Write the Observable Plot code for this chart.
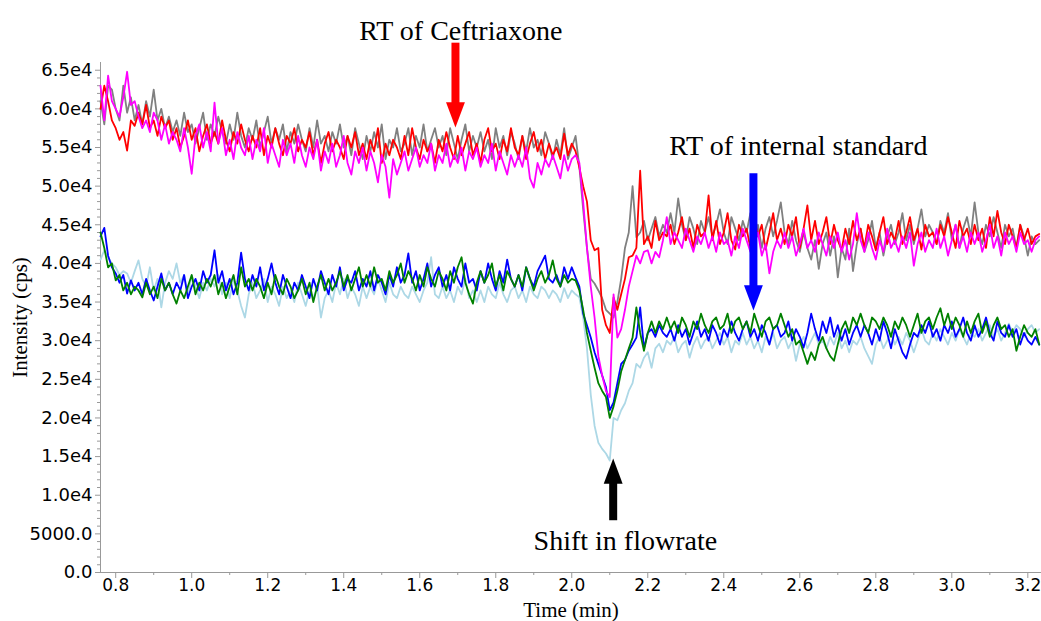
<!DOCTYPE html>
<html><head><meta charset="utf-8">
<script src="https://cdn.jsdelivr.net/npm/d3@7"></script>
<script src="https://cdn.jsdelivr.net/npm/@observablehq/plot@0.6"></script>
<style>
html,body{margin:0;padding:0;background:#fff;}
</style></head><body><div id="chart"></div>
<script>
// scan grid (min): first scan time and interval
const scanStart = 0.76, scanStep = 0.01;

// intensities in thousands of cps, one value per scan
const red = [60,63,61,58.5,57.5,56,57,54.6,58.5,57.8,
59.5,58,60.5,57.5,58.5,56.5,59,57.5,58.5,56,
57.5,55,56.5,58.5,56,57.5,54.5,56.5,58,55.5,
57,55.5,58.5,56,54.5,57,55.5,58,56,54.5,
56.5,55,57.5,54,56.5,55,57.5,55.5,54,56.5,
55.5,57.5,54.5,56,55,57,54,56,53,55.5,
57,54.5,56,55,53.5,56.5,55,57,54,55.5,
53.5,56,54.5,57.5,53,55.5,54,56,55,53.5,
56.5,54,57.5,55,53.5,56,54.5,55.5,53,56,
54.5,57,55,53.5,56.5,54,55.5,57,54,55.5,
53,56,57.5,54.5,55.5,53.5,56,54.5,57.5,55,
54,56.5,53.5,55.5,57,54.5,56,53.5,55.5,54,
55,53.5,56.8,54,55.5,54.5,52.4,50,48,43,
41.7,42,34,32,31,35.6,34,36,38,40.8,
41,42,52,42.5,43.5,42,45.5,43,44,43.5,
45,42.5,44,46,43,44.5,42,45,43.5,44,
48.8,43,45.5,42.5,44,46.5,43,41.8,45,43.5,
44.5,42,46,43.5,45,41.8,44,46.5,43,44.5,
42.5,45,43.5,46,42,44.5,47.5,43,45.5,42.5,
44,46,42.5,45,43,41.7,44.5,42.5,45.5,43,
44.5,42,45,43.5,41.7,44,46,42.5,44,43,
45.5,42.5,44,46,43,44.5,41.8,45,43.5,44,
42.5,45,43.5,46,44,42,45.5,43.5,44.5,42.5,
45,43,44.5,42,46,43.5,46.8,44,42.5,45,
43.5,42,45,43,44.5,42.5,43.5,43.8];

const gray = [61,58,63,62.5,60,58.5,63,59.5,61.5,58.5,
60.5,58,61,59,62.5,58.5,60,57.5,59,57,
58.5,56.5,59.5,57,58,55.5,57.5,59.5,56,58,
56.5,59,57,55.5,58,56,59.5,56.5,55,57.5,
56,58.5,55,57,59,55.5,57.5,56,58,54.5,
57,55.5,58,56,54.5,57.5,55,58.5,55.5,56.5,
54.5,57,55.5,58,55,56.5,54,57.5,55.5,53.5,
56.5,54.5,57,55,58,53.5,56,55,57.5,54.5,
55.5,57.5,54,56.5,55,58,54.5,56,57.5,55,
56.5,54,57.5,55.5,53.5,56,58,54.5,56.5,55,
57,54.5,56,53.5,57.5,55,56.5,54,57,55.5,
53.5,56.5,54.5,57.5,55,56,54,57,55.5,53.5,
56,54,57.5,53.5,55,56.5,52.5,47,42,38,
37.4,36.5,35.5,34,33.5,33,35,38,42,44,
50,43.4,44,45.5,43,44.5,46,43.5,45,44,
46.5,44,48.4,45,43,46,44.5,42.5,45.5,44,
46,43.5,45,47,44,42.5,46,44.5,43,45.5,
44,46.5,43,45,42,44.5,46,43.5,45.5,47.9,
44,42.5,45.5,43,41.5,44,42,40.5,43,39.3,
42.5,44,41,43.5,38.2,42,40.5,44.5,39,42.5,
44.5,41.5,43,45.5,42,44,41,43.5,45,42.5,
44,46.5,43,45,42.5,44.5,47,43.5,45,44,
42.5,45.5,44,46.5,43,45,42,44.5,46,43.5,
47.9,44,42.5,45,43.5,46,44,42,45,43.5,
44.5,42,45,43.5,41,43.5,42.5,43];

const magenta = [63,58.5,64.3,61,60,59,61.5,64.8,60.5,61,
59,57.5,58.5,57,59.5,58.5,56,58,55.5,57,
56,54.5,57.5,55,51.6,56.5,58,55,57,54.5,
60.8,55.5,57.5,54,56,53.5,57,55,54,56.5,
53.5,56,54.5,57.5,53,55.5,54,52.5,56,54,
55.5,53,56.5,54,52.5,55,53.5,56,52,54.5,
53,55.5,52.5,54,56.5,53,51.5,54.5,53,55,
52,54.5,53,50.5,54,52.5,48.5,53.5,51.5,53,
54.5,52,53.5,55,52.5,54,53,55.5,52,54,
53,55.5,52.5,54,53,55,52,54.5,53.5,55,
52.5,54,53,55.5,52,54.5,53,51.5,54,52.5,
54,52.5,55,51,49.8,53,51.5,53.5,52.5,54,
52.5,51,54,52,53.5,54,53,48,42,37,
33,28,25.5,23.5,22.7,36,30.4,31.5,34,37,
39,41,40,41.5,41.7,40,41.5,40.8,43,46,
42.5,44,43,42,44.5,43,41.5,43.5,42.5,44,
42,43.5,41.5,44,42.5,43,41,43.5,42,44.5,
43,41.5,42.5,44,41,42.5,38.7,41.5,43,42,
44,42,43.5,41,42.5,44.5,42,43,41.5,44,
42.5,41,43.5,42,44,41.5,43,40.5,42.5,46.5,
43,41.5,44,42,40.5,43,41.5,44.5,42,43,
41.5,43.5,42,44,39.7,42.5,44,41.5,43,42,
44.5,42,43.5,41,43,45,42,43.5,41.5,44,
42.5,44,41.5,43,45,42,43.5,41,44,42.5,
43.5,41.5,44,42.5,43,41.5,43,43.5];

const blue = [43.5,44.6,41,39.5,38.7,37.5,38.5,36.1,37.8,36.5,
37.5,36,38,36.5,35.2,37,38.7,36.5,37.5,36,
37.5,36.5,38.5,35.5,37,38,36.5,39,37.5,38.5,
41.7,37.5,39,36.5,38,36,37.5,41.4,38,36.5,
38.5,37,39.5,36.5,38,40,37.5,36,38.5,37,
35.5,37.5,36.5,38.5,37,35.5,38,36.5,39,37.5,
36,38.5,37,39.5,36.5,38,37.5,39,36.5,38,
37,39,36.5,38.5,37.5,36,38.5,37,39.5,37.5,
38.5,41.3,37.5,39,36.5,38,40,37,38.5,39.5,
37,38.5,36.5,39.5,38,37,40,37.5,38,36.5,
39,37.5,40,38,36.5,39,37.5,40.5,38,37,
38.5,36.5,39.5,38,37,39,40,41,38,37.5,
38.5,37,39.5,38,39.5,38.2,37,33.5,32,30.4,
28.5,27,25.5,24,21,22,24.5,27,27.5,28.7,
29.5,30.4,34.3,29,31,31.5,30.5,32,31,30.5,
31.5,30,32,30.5,31.5,29.5,31,32.5,30.5,31.5,
30,32,31,29.5,31.5,30.5,32.5,31,30,31.5,
32.5,30.5,31.5,30,32,31,29.5,31.5,32,30.5,
31,32.5,30,31.5,30.5,29.1,31,33.5,31.5,30,
32.5,31,33,30.5,32,30,31.5,29.5,31,32,
30.5,32,31,29.5,31.5,30,32.5,31,29,31.5,
30,28.5,27.7,29.5,31,30.5,32,31,32.5,30.5,
31.5,30,32,31,32.5,30.5,31.5,33,31,30,
32,30.5,31.5,33,31,30,32.5,31,30.5,32,
30.5,31.5,29.5,31,30,29.5,30.5,29.5];

const green = [44,42,39.5,40,37.8,38.5,36.5,37.5,36,37,
36.5,35.6,37.5,36,37,35.5,38,36.5,37.5,36,
34.8,36.5,35.5,37,38.5,36,37.5,36.5,38,37,
38.5,36,37.5,35.5,37,38.5,36,39.5,37,38,
36.5,38,37,35.5,37.5,36,38.5,37,36,38,
37,35.5,36.5,38,36,37.5,35,37,38.5,36.5,
38,36.5,37.5,39,37,38.5,36.5,38,39.5,37,
38.5,37,39.5,37.5,38,36.5,39,37.5,38.5,40,
37.5,39,38,36.5,38.5,37,39.5,38,37,39,
38,36.5,39,37.5,39.5,40.8,37.5,36,34.8,37.5,
39,37.5,38.5,40,37,38.5,36.5,39,38,37,
38.5,37,39.5,38,36.5,38,39,37.5,38.5,40.4,
38,37,38.5,37.5,38,37.8,36.5,34,31,28.7,
26.5,24.5,23.5,22.7,20,21.5,23.5,26,27.5,29,
30.4,34.3,31,28.7,31,32.5,31,32.5,31.5,33,
31.5,32.5,31,33,32,30.5,32.5,31.5,33.5,32,
31,32.5,33,31.5,32,33.5,31,32.5,33,31.5,
32.5,31,33.5,32,30.5,32.5,33,31.5,32,33.5,
32,30.5,31.5,29.5,30,28.5,27,28.5,27.5,29.5,
30.5,29,28,27.4,29.5,31.5,32.5,31,33,32,
33.5,32,31,33,32.5,31.5,33,32,30.5,32.5,
31.5,33,32,30.5,32,33.5,31,32.5,33,31.5,
33,34.2,32,33.5,31.5,33,32,30.5,32.5,31,
32.5,33.5,31,32.5,30.5,32,33,31.5,32,30.5,
31.5,28.7,30.5,32,31,30.5,31.5,29.5];

const lightblue = [40.5,41.7,40.8,40,39.5,38.5,39,38.7,37.5,39,
40.4,38,37,39.5,36.5,38,34.3,37.5,39,38,
40,37.5,38.5,36,38.5,37,35.5,37.5,36.5,38,
37,38.5,36,37.5,35.5,38,36.5,34.5,33,36,
37.5,35.5,36.5,38,35,37,36,34.5,37,35.5,
36.5,35,37.5,36,34.5,36.5,35.5,37,33,35.5,
36.5,35,37.5,36,38,35.5,37,36,34.5,37,
35.5,37,36,38,36.5,35,37.5,36,35.5,37,
36,35.5,37,36,35,36.5,37.5,40.8,36,35.5,
37,35.5,36.5,35,37,36,38,35.5,36.5,35,
36.5,35,37,36,35.5,37.5,36,35,36.5,37,
35.5,36.5,35,37,36,35.5,37,36.5,35.5,36.5,
36,35,36.8,35.5,36.5,36,35.6,33,29,23,
19,16.8,16,15.4,14.5,20,19.7,21,21.9,23.5,
24.5,27,26.5,27.8,28.5,26.5,29,29.6,28.5,30,
29.5,30.5,28.5,29.5,30,27.8,29.5,30.5,29,30,
30.5,29,30,31,29.5,30.5,28.5,30,29.5,31,
29.5,30.5,29,30,28.5,30.5,29.5,31,29,30,
30.5,29,30,27.4,29.5,30.5,29,30,31,29.5,
30,29,30.5,29.5,31,29,30,28.5,30,29.5,
30.5,29,28,27,29.5,30.5,29,30,31,29.5,
30.5,29.5,31,30,28.5,30,31.5,30,29.5,31,
30,31.5,30.5,29.5,31,30,31.5,30.5,29.5,31,
30.5,31.5,30,31,32,30.5,31.5,30,31,32.2,
31,32,31.5,30.5,31.5,32,31,31.5];

// drawing order (back to front) and colours
const seriesNames  = ["lightblue", "blue", "green", "gray", "red", "magenta"];
const seriesValues = [lightblue, blue, green, gray, red, magenta];
const seriesColors = ["#9ec4ee", "#0000ff", "#008000", "#808080", "#ff0000", "#ff00ff"];

// axes
const xTickValues = [0.8, 1.0, 1.2, 1.4, 1.6, 1.8, 2.0, 2.2, 2.4, 2.6, 2.8, 3.0, 3.2];
const xMinorTicks = [0.9, 1.1, 1.3, 1.5, 1.7, 1.9, 2.1, 2.3, 2.5, 2.7, 2.9, 3.1];
const yTickValues = [0, 5, 10, 15, 20, 25, 30, 35, 40, 45, 50, 55, 60, 65];
const yTickLabels = ["0.0", "5000.0", "1.0e4", "1.5e4", "2.0e4", "2.5e4", "3.0e4", "3.5e4", "4.0e4", "4.5e4", "5.0e4", "5.5e4", "6.0e4", "6.5e4"];
const xTitle = "Time (min)";
const yTitle = "Intensity (cps)";

// annotations
const noteText = ["RT of Ceftriaxone", "RT of internal standard", "Shift in flowrate"];
const noteT = [1.708, 2.596, 2.141];
const noteV = [70.1, 55.2, 4.1];
const arrowT = [1.694, 2.478, 2.109];
const arrowFrom = [68.5, 51.6, 6.7];
const arrowTip = [57.6, 33.9, 14.75];
const arrowColor = ["#ff0000", "#0000ff", "#000000"];

const rows = [];
seriesNames.forEach((name, k) => {
  seriesValues[k].forEach((v, i) => rows.push({t: scanStart + i * scanStep, v, s: name}));
});

const arrowHead = {
  draw(ctx, size) {
    const k = Math.sqrt(size / Math.PI);
    const w = 1.35 * k, l = 3.6 * k;
    ctx.moveTo(0, 0); ctx.lineTo(-w, -l); ctx.lineTo(w, -l); ctx.closePath();
  }
};
const down = [0, 1], up = [2];
const yMinor = d3.range(0, 66, 1).filter(v => v % 5 !== 0);
const sans = "DejaVu Sans, Verdana, sans-serif";
const serif = "Liberation Serif, Times New Roman, serif";

const chart = Plot.plot({
  width: 1041, height: 621,
  marginLeft: 100, marginRight: 0, marginTop: 62, marginBottom: 49,
  style: {background: "white", color: "black"},
  x: {domain: [0.76, 3.236], axis: null},
  y: {domain: [0, 66], axis: null},
  color: {domain: seriesNames, range: seriesColors},
  marks: [
    Plot.axisX(xMinorTicks, {tickSize: 3, stroke: "#999", fill: "none", label: null}),
    Plot.axisX(xTickValues, {tickSize: 6, stroke: "#999", tickFormat: d3.format(".1f"), tickPadding: 0,
      fontSize: 17, fontFamily: sans, fill: "black", label: null}),
    Plot.axisY(yMinor, {tickSize: 3, stroke: "#999", fill: "none", label: null}),
    Plot.axisY(yTickValues, {tickSize: 5, stroke: "#999", tickPadding: 3, fontSize: 18, fontFamily: sans, fill: "black",
      tickFormat: d => yTickLabels[yTickValues.indexOf(d)], label: null}),
    Plot.ruleY([0], {stroke: "#999"}),
    Plot.ruleX([0.76], {stroke: "#999"}),
    Plot.text([xTitle], {frameAnchor: "bottom", dy: 38, textAnchor: "middle", lineAnchor: "middle",
      fontSize: 21, fontFamily: serif, fill: "black"}),
    Plot.text([yTitle], {frameAnchor: "left", dx: -80, rotate: -90, textAnchor: "middle", lineAnchor: "middle",
      fontSize: 21, fontFamily: serif, fill: "black"}),
    Plot.line(rows, {x: "t", y: "v", z: "s", stroke: "s", strokeWidth: 1.8, curve: "linear"}),
    Plot.ruleX(down, {x: i => arrowT[i], y1: i => arrowFrom[i], y2: i => arrowTip[i], stroke: i => arrowColor[i], strokeWidth: 8, insetBottom: 22}),
    Plot.ruleX(up, {x: i => arrowT[i], y1: i => arrowTip[i], y2: i => arrowFrom[i], stroke: i => arrowColor[i], strokeWidth: 8, insetTop: 22}),
    Plot.dot(down, {x: i => arrowT[i], y: i => arrowTip[i], r: 7, symbol: arrowHead, fill: i => arrowColor[i], stroke: "none"}),
    Plot.dot(up, {x: i => arrowT[i], y: i => arrowTip[i], r: 7, symbol: arrowHead, rotate: 180, fill: i => arrowColor[i], stroke: "none"}),
    Plot.text([0, 1, 2], {x: i => noteT[i], y: i => noteV[i], text: i => noteText[i], fontSize: 28,
      fontFamily: serif, fill: "black"})
  ]
});
document.getElementById("chart").appendChild(chart);
</script>
</body></html>
